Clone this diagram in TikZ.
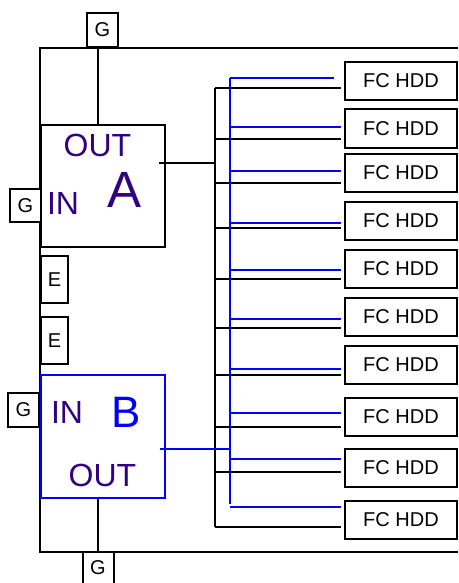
\documentclass[tikz,border=0pt]{standalone}
\usepackage{fontspec}
\setmainfont{Liberation Sans}
\usepackage{xcolor}
\usepackage{tikz}
\usetikzlibrary{positioning, calc}
\definecolor{cPurple}{RGB}{51,0,128}
\definecolor{cBlue}{RGB}{0,0,255}
\tikzset{
	tagbox/.style  ={rectangle, draw=black, line width=2pt, fill=white, inner sep=0pt, minimum width=31pt, minimum height=33pt, font=\fontsize{20}{20}\selectfont},
	ebox/.style    ={rectangle, draw=black, line width=2pt, fill=white, inner sep=0pt, minimum width=27pt, minimum height=47pt, font=\fontsize{20}{20}\selectfont},
	unit/.style    ={rectangle, draw=black, line width=2pt, fill=white, minimum width=124pt, minimum height=122pt},
	hdd/.style     ={rectangle, draw=black, line width=2pt, fill=white, inner sep=0pt, minimum width=112pt, minimum height=38pt, font=\fontsize{20}{20}\selectfont},
	portlbl/.style ={inner sep=0pt, text=cPurple, font=\fontsize{32}{32}\selectfont},
	wire/.style    ={draw=black, line width=2pt},
	bluewire/.style={draw=cBlue, line width=2pt},
}
\begin{document}
\begin{tikzpicture}[x=1pt, y=-1pt]
	\useasboundingbox (0,0) rectangle (458,583);
	\coordinate (fTR) at (458,48); \coordinate (fTL) at (40,48);
	\coordinate (fBL) at (40,552); \coordinate (fBR) at (458,552);
	\draw[wire] (fTR) -- (fTL) -- (fBL) -- (fBR);
	\node[unit] (ua) at (103,186) {};
	\node[unit, draw=cBlue, minimum height=123pt] (ub) at (103,436.5) {};
	\node[portlbl] (aout) at (97.5,145) {OUT};
	\node[portlbl] (ain) at (63,203.5) {IN};
	\node[portlbl, font=\fontsize{51}{51}\selectfont] (aname) at (125,190) {A};
	\node[portlbl] (bin) at (67,412.5) {IN};
	\node[portlbl, text=cBlue, font=\fontsize{44}{44}\selectfont] (bname) at (126,412.5) {B};
	\node[portlbl] (bout) at (102.5,475) {OUT};
	\node[tagbox, minimum height=34pt] (gt) at (102.5,30) {G};
	\node[tagbox] (ga) at (25.5,205.5) {G};
	\node[tagbox, minimum height=34pt] (gb) at (23.5,410) {G};
	\node[tagbox, minimum height=32pt] (gd) at (98,568) {G};
	\node[ebox] (e1) at (54.5,279.5) {E};
	\node[ebox] (e2) at (54.5,340.5) {E};
	\coordinate (gtpin) at (98,47);
	\draw[wire] (gtpin) -- (gtpin |- ua.north);
	\draw[wire] (gd.north) -- (gd.north |- ub.south);
	\foreach \i/\yc/\yk/\yb in {1/81/88/78, 2/128.5/139/127, 3/173/183/171, 4/221/228/223, 5/269/279/270,
		6/317/328/319, 7/365/375/369, 8/417/427/413, 9/468/472/459, 10/520/527/507}{
		\node[hdd] (h\i) at (401,\yc) {FC HDD};
		\coordinate (k\i) at (215,\yk);
		\coordinate (u\i) at (230,\yb);
		\draw[wire, shorten >=3pt] (k\i) -- (k\i -| h\i.west);
	}
	\draw[wire] (k1) -- (k10);
	\coordinate (ao) at (159,163);
	\draw[wire] (ao) -- (ao -| k1);
	\foreach \i in {2,...,10}
		\draw[bluewire, shorten >=3pt] (u\i) -- (u\i -| h\i.west);
	\draw[bluewire, shorten >=10pt] (u1) -- (u1 -| h1.west);
	\draw[bluewire] (u1) -- ([yshift=3pt]u10);
	\coordinate (bo) at (160,449);
	\draw[bluewire] (bo) -- (bo -| u1);
\end{tikzpicture}
\end{document}
